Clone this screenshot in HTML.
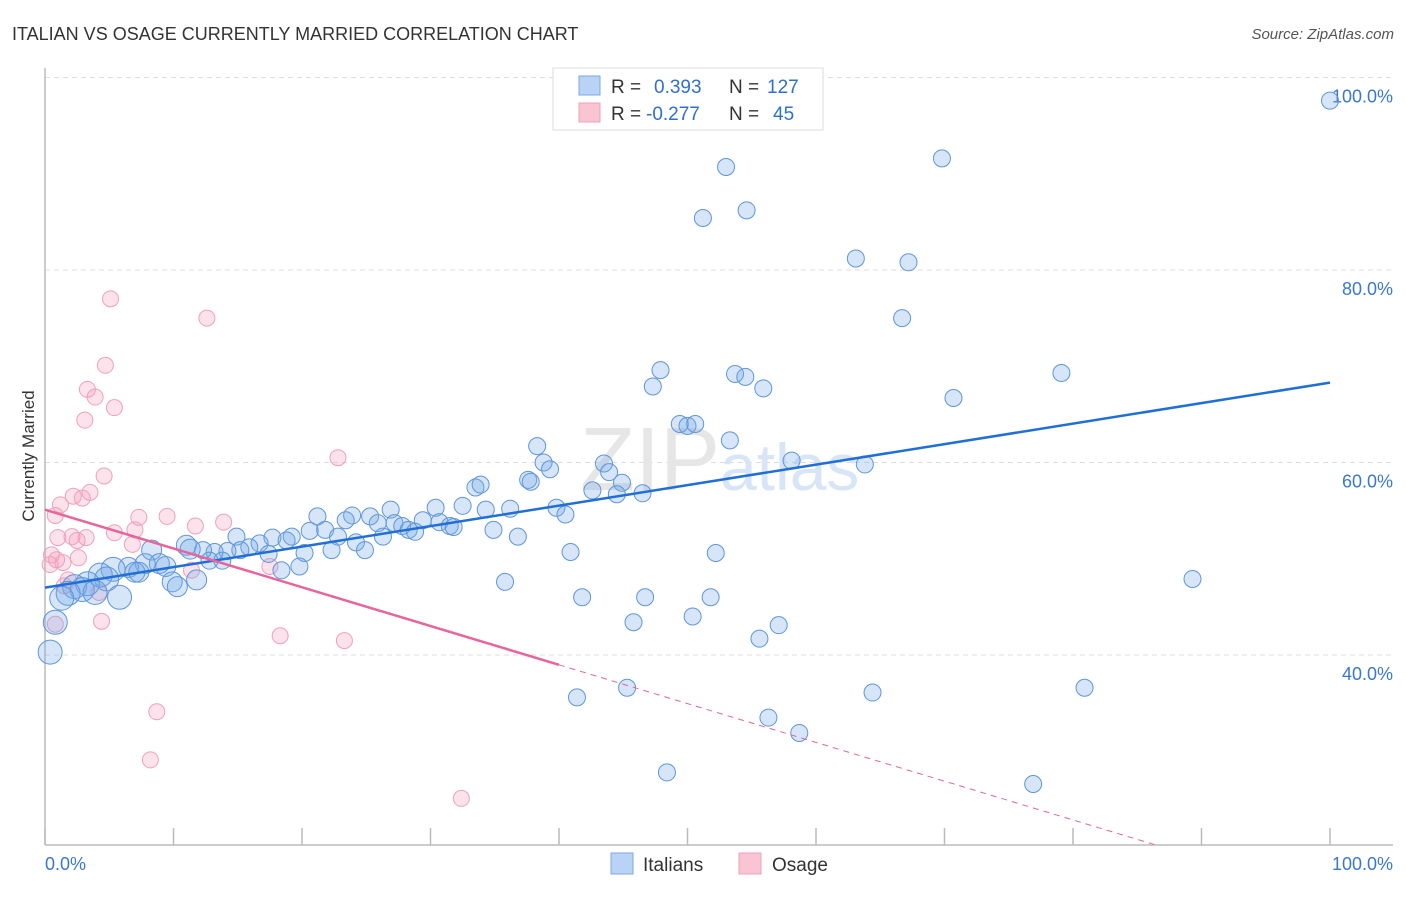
<!DOCTYPE html>
<html><head><meta charset="utf-8"><style>
body{margin:0;background:#fff;font-family:"Liberation Sans",sans-serif;}
svg text{font-family:"Liberation Sans",sans-serif;}
</style></head><body>
<svg id="chart" width="1406" height="892" viewBox="0 0 1406 892">
<text x="12" y="40" font-size="18" fill="#333">ITALIAN VS OSAGE CURRENTLY MARRIED CORRELATION CHART</text>
<text x="1394" y="39" font-size="15" fill="#555" font-style="italic" text-anchor="end">Source: ZipAtlas.com</text>
<text x="34" y="456" font-size="17" fill="#333" text-anchor="middle" transform="rotate(-90 34 456)">Currently Married</text>
<g id="grid"></g>
<text x="720" y="490" font-size="90" fill="#e6e6e6" font-family="Liberation Serif" text-anchor="end">ZIP</text>
<text x="720" y="490" font-size="66" fill="#d8e5f6">atlas</text>
<line x1="45" y1="68" x2="45" y2="845" stroke="#bbb" stroke-width="1.5"/>
<line x1="45" y1="845" x2="1393" y2="845" stroke="#bbb" stroke-width="1.5"/>
<g id="xticks"></g>
<g id="pinkpts"></g>
<g id="bluepts"></g>
<g id="trends"></g>
<text x="45" y="870" font-size="18" fill="#3a78d0">0.0%</text>
<text x="1393" y="870" font-size="18" fill="#3a78d0" text-anchor="end">100.0%</text>
<g>
<rect x="553" y="68" width="270" height="62" fill="#fff" stroke="#ddd"/>
<rect x="579" y="76" width="21" height="19" fill="#b8d3f5" stroke="#7aa8e6"/>
<rect x="579" y="103" width="21" height="19" fill="#f9c4d4" stroke="#eea0b8"/>
<text x="611" y="93" font-size="19" fill="#333">R = <tspan x="654" fill="#2f6fd0">0.393</tspan><tspan x="729" fill="#333">N =</tspan><tspan x="767" fill="#2f6fd0">127</tspan></text>
<text x="611" y="120" font-size="19" fill="#333">R = <tspan x="646" fill="#2f6fd0">-0.277</tspan><tspan x="729" fill="#333">N =</tspan><tspan x="773" fill="#2f6fd0">45</tspan></text>
</g>
<g>
<rect x="611" y="853" width="22" height="21" fill="#b8d3f5" stroke="#7aa8e6"/>
<text x="643" y="871" font-size="19" fill="#333">Italians</text>
<rect x="739" y="853" width="22" height="21" fill="#f9c4d4" stroke="#eea0b8"/>
<text x="772" y="871" font-size="19" fill="#333">Osage</text>
</g>
</svg>
<script>
const yTicks=[40,60,80,100];
const yTickLabels=["40.0%","60.0%","80.0%","100.0%"];
const xTicks=[0,10,20,30,40,50,60,70,80,90,100];
const blueX=[100,53.0,69.8,51.2,54.6,63.1,67.2,66.7,47.9,47.3,53.7,54.5,55.9,79.1,70.7,49.4,50.0,50.6,53.3,38.3,38.8,39.3,43.5,43.9,44.9,58.1,63.8,37.6,37.8,33.5,33.9,42.6,44.5,46.5,36.2,34.3,32.5,30.4,39.8,40.5,26.9,23.9,25.3,21.2,23.4,25.9,27.2,27.8,29.4,30.7,31.5,31.8,28.3,28.8,34.9,20.6,21.8,22.8,26.3,36.8,19.2,17.7,18.8,14.9,16.7,24.2,24.9,22.3,20.2,17.4,15.9,15.2,14.2,13.2,12.3,11.0,11.3,8.3,40.9,52.2,12.8,13.8,8.9,7.8,9.4,6.5,5.3,7.0,7.3,4.3,19.8,18.4,4.8,9.9,11.8,10.3,35.8,89.3,3.3,2.3,2.9,3.9,1.8,1.3,5.8,41.8,46.7,51.8,50.4,45.8,57.1,55.6,0.8,0.4,45.3,41.4,64.4,80.9,56.3,58.7,48.4,76.9];
const blueY=[97.6,90.7,91.6,85.4,86.2,81.2,80.8,75.0,69.6,67.9,69.2,68.9,67.7,69.3,66.7,64.0,63.8,64.0,62.3,61.7,60.0,59.3,59.9,59.0,57.9,60.2,59.8,58.2,58.0,57.4,57.7,57.1,56.7,56.8,55.2,55.1,55.5,55.3,55.3,54.6,55.1,54.5,54.4,54.4,54.0,53.7,53.7,53.4,54.0,53.8,53.4,53.3,53.0,52.8,53.0,52.9,53.0,52.3,52.3,52.3,52.3,52.2,51.9,52.3,51.6,51.7,50.9,50.9,50.6,50.5,51.2,50.9,50.8,50.7,50.9,51.4,51.0,50.9,50.7,50.6,49.8,49.8,49.5,49.5,49.2,49.1,48.9,48.6,48.6,48.3,49.2,48.8,47.9,47.6,47.8,47.1,47.6,47.9,47.4,47.1,46.8,46.5,46.4,45.9,46.0,46.0,46.0,46.0,44.0,43.4,43.1,41.7,43.4,40.3,36.6,35.6,36.1,36.6,33.5,31.9,27.8,26.6];
const pinkX=[5.1,12.6,4.7,3.3,3.9,5.4,3.1,22.8,4.6,3.5,2.2,2.9,1.2,0.8,7.3,9.5,13.9,11.7,7.0,5.4,1.0,2.1,3.2,2.5,6.8,0.5,0.9,2.6,1.4,0.4,17.5,11.4,1.8,1.5,4.2,4.4,18.3,23.3,8.7,8.2,32.4,0.8];
const pinkY=[77.0,75.0,70.1,67.6,66.8,65.7,64.4,60.5,58.6,56.9,56.5,56.3,55.6,54.5,54.3,54.4,53.8,53.4,53.0,52.7,52.2,52.3,52.2,51.9,51.5,50.4,49.9,50.1,49.6,49.4,49.2,48.8,47.8,47.2,46.5,43.5,42.0,41.5,34.1,29.1,25.1,43.2];
const blueTrend=[47.0,68.3];
const pinkTrend=[55.1,14.8];
const pinkSolidEnd=40;
const NS="http://www.w3.org/2000/svg";
const xs=v=>45+v*12.85, ys=v=>1040-v*9.625;
function mk(t,a,p){const e=document.createElementNS(NS,t);for(const k in a)e.setAttribute(k,a[k]);p.appendChild(e);return e;}
const grid=document.getElementById('grid');
yTicks.forEach((v,i)=>{
 const l=mk('line',{x1:45,x2:1393,y1:ys(v),y2:ys(v),stroke:'#ddd','stroke-dasharray':'5,4'},grid);
 
 
 const t=mk('text',{x:1393,y:ys(v)+25,'font-size':18,fill:'#3a78d0','text-anchor':'end'},grid);
 t.textContent=yTickLabels[i];
 
 
});
const xt=document.getElementById('xticks');
xTicks.forEach(v=>{
 const l=mk('line',{x1:xs(v),x2:xs(v),y1:828,y2:845,stroke:'#bbb','stroke-width':1.5},xt);
 
 
});
const pg=document.getElementById('pinkpts');
pinkX.forEach((x,i)=>{
 const c=mk('circle',{cx:xs(x),cy:ys(pinkY[i]),r:8,fill:'rgba(244,160,188,0.3)',stroke:'#f0a0bb','stroke-width':1},pg);
 
 
});
const bg=document.getElementById('bluepts');
blueX.forEach((x,i)=>{
 const r=x<6?12:(x<12?10:8.5);
 const c=mk('circle',{cx:xs(x),cy:ys(blueY[i]),r:r,fill:'rgba(120,170,232,0.3)',stroke:'#5e96dc','stroke-width':1},bg);
 
 
});
const tg=document.getElementById('trends');
const bl=mk('line',{x1:xs(0),y1:ys(blueTrend[0]),x2:xs(100),y2:ys(blueTrend[1]),stroke:'#1f6fd6','stroke-width':2.5},tg);


const pAt=x=>pinkTrend[0]+(pinkTrend[1]-pinkTrend[0])*x/100;
const ps=mk('line',{x1:xs(0),y1:ys(pAt(0)),x2:xs(pinkSolidEnd),y2:ys(pAt(pinkSolidEnd)),stroke:'#e8649a','stroke-width':2.5},tg);


let xe=(20.3-pinkTrend[0])/(pinkTrend[1]-pinkTrend[0])*100; if(xe>100)xe=100;
const pd=mk('line',{x1:xs(pinkSolidEnd),y1:ys(pAt(pinkSolidEnd)),x2:xs(xe),y2:ys(pAt(xe)),stroke:'#e8649a','stroke-width':1,'stroke-dasharray':'6,5'},tg);


</script>
</body></html>
